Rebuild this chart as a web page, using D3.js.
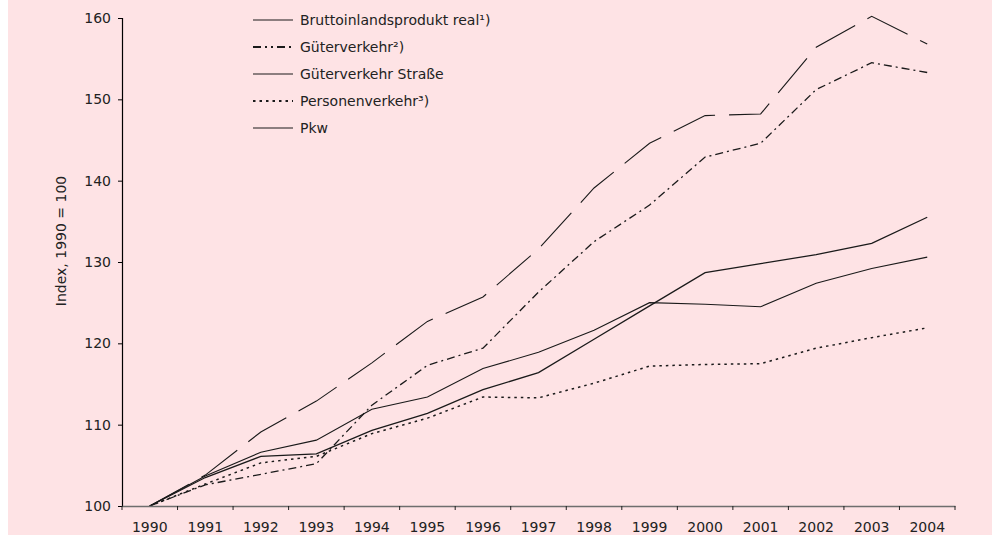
<!DOCTYPE html>
<html><head><meta charset="utf-8">
<script src="https://cdn.jsdelivr.net/npm/d3@7"></script>
<style>
html,body{margin:0;padding:0;background:#fff;}
svg{display:block;}
text{font-family:"Century Gothic","URW Gothic","DejaVu Sans",sans-serif;fill:#222;}
</style></head>
<body>
<script>
const years = ["1990","1991","1992","1993","1994","1995","1996","1997","1998","1999","2000","2001","2002","2003","2004"];
const bip = [100,103.5,106.1,106.4,109.3,111.4,114.3,116.4,120.5,124.6,128.7,129.8,130.9,132.3,135.5];
const gueterverkehr = [100,102.6,103.9,105.2,112.4,117.3,119.4,126.3,132.5,137.0,142.9,144.6,151.2,154.5,153.3];
const gueterStrasse = [100,103.8,109.1,112.9,117.6,122.7,125.7,131.6,139.1,144.6,148.0,148.2,156.4,160.2,156.8];
const personenverkehr = [100,102.7,105.3,106.1,108.9,110.8,113.4,113.3,115.1,117.2,117.4,117.5,119.4,120.7,121.9];
const pkw = [100,103.7,106.6,108.1,111.9,113.4,116.9,118.9,121.6,125.0,124.8,124.5,127.4,129.2,130.6];
const yTicks = [100,110,120,130,140,150,160];
const seriesNames = ["Bruttoinlandsprodukt real¹)","Güterverkehr²)","Güterverkehr Straße","Personenverkehr³)","Pkw"];
const yLabel = "Index, 1990 = 100";

const W = 992, H = 535;
const svg = d3.select("body").append("svg").attr("width", W).attr("height", H);
svg.append("rect").attr("x", 8).attr("y", 0).attr("width", W - 8).attr("height", H).attr("fill", "#fee3e5");

const x = d3.scaleBand().domain(years).range([122, 955]);
const y = d3.scaleLinear().domain([100, 160]).range([506, 18]);

const series = [
  {name: seriesNames[0], values: bip, dash: null, lw: 1.3, color: "#1a1a1a", legDash: null},
  {name: seriesNames[1], values: gueterverkehr, dash: "8,4,2,4", lw: 1.3, color: "#1a1a1a", legDash: "8,4,2,4,2,4"},
  {name: seriesNames[2], values: gueterStrasse, dash: "45,14", lw: 1.1, color: "#1a1a1a", legDash: null},
  {name: seriesNames[3], values: personenverkehr, dash: "2.5,4", lw: 1.5, color: "#1a1a1a", legDash: "2.5,4"},
  {name: seriesNames[4], values: pkw, dash: null, lw: 1.1, color: "#1a1a1a", legDash: null}
];

const line = d3.line().x((d, i) => x(years[i]) + x.bandwidth() / 2).y(d => y(d));
series.forEach(s => {
  svg.append("path").datum(s.values).attr("d", line)
    .attr("fill", "none").attr("stroke", s.color).attr("stroke-width", s.lw)
    .attr("stroke-dasharray", s.dash);
});

// Y axis
const yAxis = svg.append("g").attr("transform", "translate(122,0)")
  .call(d3.axisLeft(y).tickValues(yTicks).tickSize(4).tickPadding(7));
yAxis.select(".domain").attr("stroke", "#000").attr("stroke-width", 1.2);
yAxis.selectAll(".tick line").attr("stroke", "#000");
yAxis.selectAll("text").attr("font-size", 14).attr("fill", "#222");

// X axis
const xAxis = svg.append("g").attr("transform", "translate(0,506)")
  .call(d3.axisBottom(x).tickSize(0).tickPadding(16));
xAxis.select(".domain").attr("stroke", "#6e6e6e").attr("stroke-width", 1.5);
xAxis.selectAll("text").attr("font-size", 14).attr("fill", "#222");
const xEdges = years.map(yr => x(yr)).concat([x.range()[1]]);
xAxis.selectAll(".edgeTick").data(xEdges).enter().append("line")
  .attr("x1", d => d).attr("x2", d => d).attr("y1", 0).attr("y2", 4)
  .attr("stroke", "#222").attr("stroke-width", 1);

// Y label
svg.append("text").attr("transform", "translate(66,241) rotate(-90)")
  .attr("text-anchor", "middle").attr("font-size", 14).text(yLabel);

// Legend
const leg = svg.append("g");
series.forEach((s, i) => {
  const yy = 20 + i * 27;
  leg.append("line").attr("x1", 253).attr("x2", 293).attr("y1", yy).attr("y2", yy)
    .attr("stroke", s.color).attr("stroke-width", s.legDash ? 2 : 1.2)
    .attr("stroke-dasharray", s.legDash);
  leg.append("text").attr("x", 300).attr("y", yy + 5).attr("font-size", 14).text(s.name);
});
</script>
</body></html>
